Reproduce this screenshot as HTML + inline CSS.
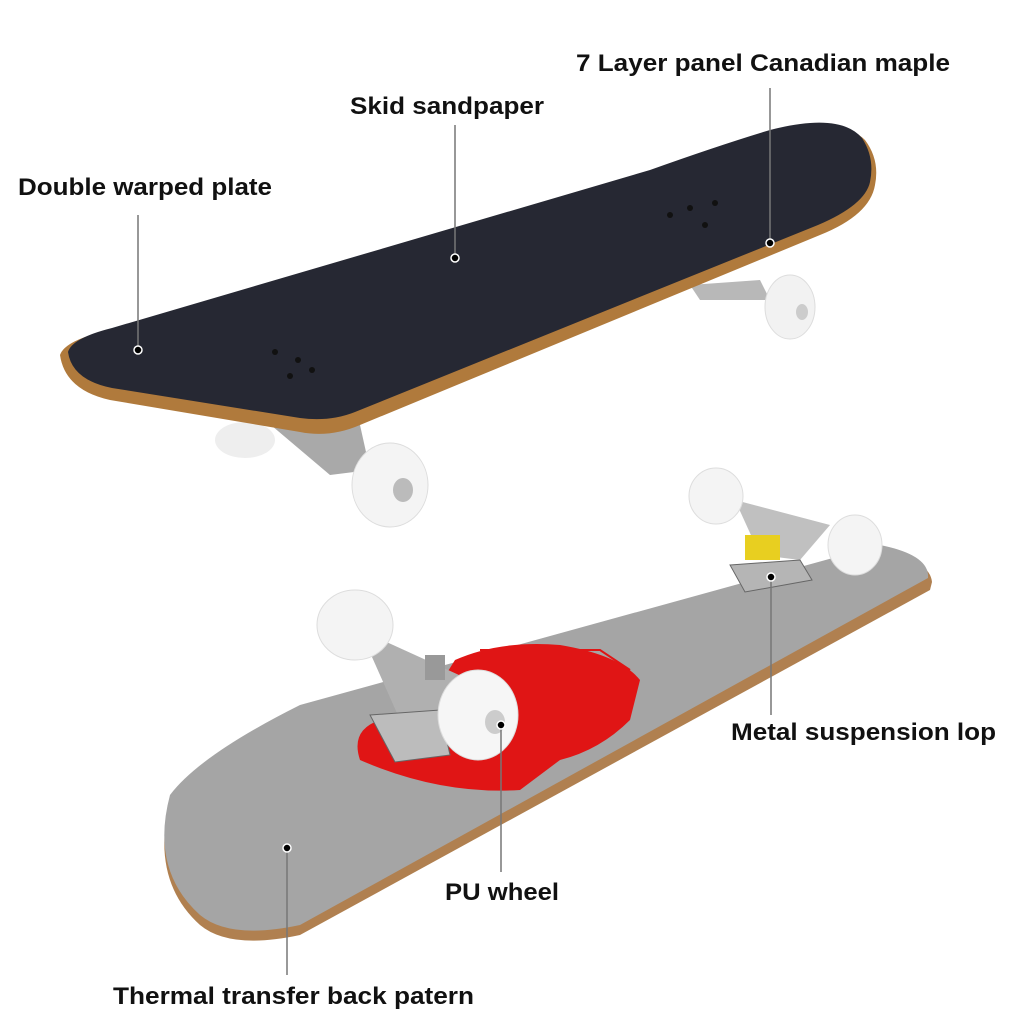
<!DOCTYPE html>
<html><head><meta charset="utf-8"><style>
html,body{margin:0;padding:0;background:#fff}
.t{font-family:"Liberation Sans",Arial,sans-serif;font-weight:bold;font-size:24px;fill:#111}
</style></head><body>
<svg width="1024" height="1024" viewBox="0 0 1024 1024" xmlns="http://www.w3.org/2000/svg">
<path d="M690 285 L760 280 L770 300 L700 300 Z" fill="#b8b8b8"/>
<ellipse cx="790" cy="307" rx="25" ry="32" fill="#f2f2f2" stroke="#ddd"/>
<ellipse cx="802" cy="312" rx="6" ry="8" fill="#ccc"/>
<path d="M265 420 L360 425 L370 470 L330 475 Z" fill="#a9a9a9"/>
<ellipse cx="245" cy="440" rx="30" ry="18" fill="#eee"/>
<ellipse cx="390" cy="485" rx="38" ry="42" fill="#f4f4f4" stroke="#ddd"/>
<ellipse cx="403" cy="490" rx="10" ry="12" fill="#bbb"/>
<path d="M60 355 Q65 340 110 330 L650 175 Q720 150 770 135 Q840 115 865 140 Q880 160 875 185 Q870 215 820 235 L360 425 Q330 438 300 432 L110 400 Q65 390 60 355 Z" fill="#b07a3c"/>
<path d="M68 352 Q72 338 112 328 L650 170 Q720 145 770 130 Q840 112 862 138 Q875 158 870 182 Q865 205 818 225 L355 412 Q330 422 300 418 L112 388 Q72 380 68 352 Z" fill="#262833"/>
<g fill="#111"><circle cx="275" cy="352" r="3"/><circle cx="298" cy="360" r="3"/><circle cx="290" cy="376" r="3"/><circle cx="312" cy="370" r="3"/><circle cx="670" cy="215" r="3"/><circle cx="690" cy="208" r="3"/><circle cx="705" cy="225" r="3"/><circle cx="715" cy="203" r="3"/></g>
<path d="M170 800 Q200 760 300 712 L880 550 Q930 560 932 582 L930 590 L300 935 Q230 950 200 925 Q150 880 170 800 Z" fill="#b08050"/>
<path d="M170 795 Q200 755 300 705 L880 545 Q930 555 928 578 L300 925 Q230 940 200 915 Q150 870 170 795 Z" fill="#a5a5a5"/>
<path d="M455 660 Q500 640 560 645 Q620 655 640 680 L630 720 Q600 750 560 760 L520 790 Q440 795 360 760 Q350 730 380 720 L430 700 Z" fill="#e01515"/>
<path d="M480 650 L600 650 L630 670" stroke="#e01515" fill="none" stroke-width="2"/>
<path d="M735 500 L830 525 L800 560 L760 555 Z" fill="#c0c0c0"/>
<rect x="745" y="535" width="35" height="25" fill="#e8cf20"/>
<path d="M730 565 L800 560 L812 580 L745 592 Z" fill="#b5b5b5" stroke="#666"/>
<ellipse cx="716" cy="496" rx="27" ry="28" fill="#f4f4f4" stroke="#ddd"/>
<ellipse cx="855" cy="545" rx="27" ry="30" fill="#f4f4f4" stroke="#ddd"/>
<path d="M360 630 L470 680 L440 740 L400 720 Z" fill="#b0b0b0"/>
<path d="M370 715 L440 710 L450 755 L395 762 Z" fill="#bcbcbc" stroke="#666"/>
<rect x="425" y="655" width="20" height="25" fill="#999"/>
<ellipse cx="355" cy="625" rx="38" ry="35" fill="#f4f4f4" stroke="#ddd"/>
<ellipse cx="478" cy="715" rx="40" ry="45" fill="#f6f6f6" stroke="#ddd"/>
<ellipse cx="495" cy="722" rx="10" ry="12" fill="#ccc"/>
<g stroke="#777" stroke-width="1.5">
<line x1="770" y1="88" x2="770" y2="243"/><line x1="455" y1="125" x2="455" y2="258"/><line x1="138" y1="215" x2="138" y2="350"/>
<line x1="771" y1="577" x2="771" y2="715"/><line x1="501" y1="725" x2="501" y2="872"/><line x1="287" y1="848" x2="287" y2="975"/>
</g>
<g fill="#000" stroke="#fff" stroke-width="1.5">
<circle cx="770" cy="243" r="4"/><circle cx="455" cy="258" r="4"/><circle cx="138" cy="350" r="4"/><circle cx="771" cy="577" r="4"/><circle cx="501" cy="725" r="4"/><circle cx="287" cy="848" r="4"/>
</g>
<text class="t" x="576" y="71" textLength="374" lengthAdjust="spacingAndGlyphs">7 Layer panel Canadian maple</text>
<text class="t" x="350" y="114" textLength="194" lengthAdjust="spacingAndGlyphs">Skid sandpaper</text>
<text class="t" x="18" y="195" textLength="254" lengthAdjust="spacingAndGlyphs">Double warped plate</text>
<text class="t" x="731" y="740" textLength="265" lengthAdjust="spacingAndGlyphs">Metal suspension lop</text>
<text class="t" x="445" y="900" textLength="114" lengthAdjust="spacingAndGlyphs">PU wheel</text>
<text class="t" x="113" y="1004" textLength="361" lengthAdjust="spacingAndGlyphs">Thermal transfer back patern</text>
</svg>
</body></html>
